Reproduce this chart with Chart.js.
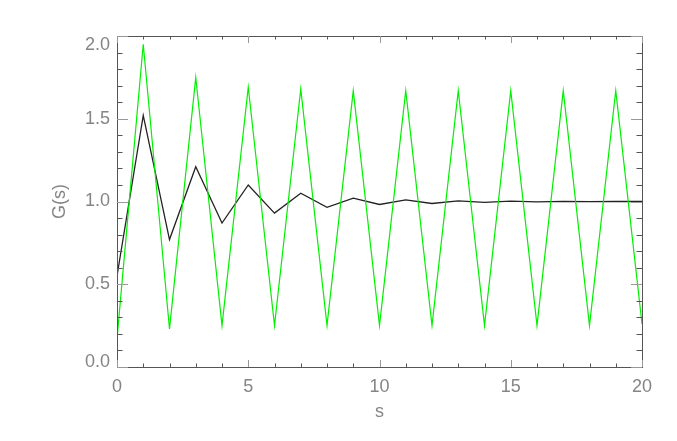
<!DOCTYPE html>
<html>
<head>
<meta charset="utf-8">
<title>G(s)</title>
<script src="https://cdn.jsdelivr.net/npm/chart.js@4/dist/chart.umd.min.js"></script>
<style>
  html, body { margin: 0; padding: 0; background: #fff; }
  #wrap { width: 677px; height: 441px; }
</style>
</head>
<body>
<div id="wrap"><canvas id="chart" width="677" height="441"></canvas></div>
<script>
// Values
const S_VALUES = [0, 1, 2, 3, 4, 5, 6, 7, 8, 9, 10, 11, 12, 13, 14, 15, 16, 17, 18, 19, 20];
const GREEN_VALUES = [0.17, 1.95, 0.23, 1.75, 0.25, 1.69, 0.25, 1.68, 0.25, 1.67, 0.25,
                      1.67, 0.25, 1.67, 0.25, 1.67, 0.25, 1.67, 0.25, 1.67, 0.26];
const BLACK_VALUES = [0.55, 1.52, 0.77, 1.21, 0.87, 1.10, 0.93, 1.05, 0.965, 1.02, 0.982,
                      1.01, 0.988, 1.004, 0.995, 1.002, 0.998, 1.001, 0.999, 1.0, 1.0];
const X_LABELS = [0, 5, 10, 15, 20];
const Y_LABELS = [0.0, 0.5, 1.0, 1.5, 2.0];

const TEXT_COLOR = '#858585';
const AXIS_COLOR = '#555555';
const FONT = { family: '"Liberation Sans", Arial, sans-serif', size: 18 };

// IDL-style box with inward tick marks on all four sides
const boxTicks = {
  id: 'boxTicks',
  afterDatasetsDraw(chart) {
    const { ctx, chartArea: a, scales: { x, y } } = chart;
    ctx.save();
    ctx.lineWidth = 1;
    ctx.strokeStyle = AXIS_COLOR;
    ctx.strokeRect(a.left + 0.5, a.top + 0.5, a.right - a.left, a.bottom - a.top);

    x.ticks.forEach(t => {
      const px = Math.round(x.getPixelForValue(t.value)) + 0.5;
      const major = X_LABELS.includes(Math.round(t.value * 10) / 10);
      const len = major ? 7 : 3.5;
      ctx.strokeStyle = major ? '#999' : AXIS_COLOR;
      ctx.beginPath();
      ctx.moveTo(px, a.bottom); ctx.lineTo(px, a.bottom - len);
      ctx.moveTo(px, a.top); ctx.lineTo(px, a.top + len);
      ctx.stroke();
    });
    y.ticks.forEach(t => {
      const py = Math.round(y.getPixelForValue(t.value)) + 0.5;
      const major = Y_LABELS.includes(Math.round(t.value * 10) / 10);
      const len = major ? 11 : 5.5;
      ctx.strokeStyle = major ? '#999' : AXIS_COLOR;
      ctx.beginPath();
      ctx.moveTo(a.left, py); ctx.lineTo(a.left + len, py);
      ctx.moveTo(a.right, py); ctx.lineTo(a.right - len, py);
      ctx.stroke();
    });

    // y labels: end labels are pulled inside the box like IDL does
    ctx.fillStyle = TEXT_COLOR;
    ctx.font = `${FONT.size}px ${FONT.family}`;
    ctx.textAlign = 'right';
    ctx.textBaseline = 'middle';
    Y_LABELS.forEach(v => {
      let py = y.getPixelForValue(v);
      py = Math.min(Math.max(py, a.top + 9), a.bottom - 5);
      ctx.fillText(v.toFixed(1), a.left - 7, py);
    });
    ctx.restore();
  },
};

const ctx = document.getElementById('chart').getContext('2d');
new Chart(ctx, {
  type: 'line',
  data: {
    datasets: [
      {
        label: 'green',
        data: S_VALUES.map((s, i) => ({ x: s, y: GREEN_VALUES[i] })),
        borderColor: '#00f000',
        borderWidth: 1.2,
        pointRadius: 0,
        tension: 0,
      },
      {
        label: 'black',
        data: S_VALUES.map((s, i) => ({ x: s, y: BLACK_VALUES[i] })),
        borderColor: '#222222',
        borderWidth: 1.3,
        pointRadius: 0,
        tension: 0,
      },
    ],
  },
  options: {
    responsive: false,
    animation: false,
    layout: { padding: { left: 0, right: 35, top: 36, bottom: 0 } },
    plugins: { legend: { display: false }, tooltip: { enabled: false } },
    scales: {
      x: {
        type: 'linear',
        min: 0,
        max: 20,
        afterFit: s => { s.height = 74; },
        grid: { display: false, drawTicks: false },
        border: { display: false },
        ticks: {
          stepSize: 1,
          autoSkip: false,
          maxRotation: 0,
          padding: 9,
          color: TEXT_COLOR,
          font: FONT,
          callback: v => (X_LABELS.includes(v) ? String(v) : ''),
        },
        title: {
          display: true,
          text: 's',
          color: TEXT_COLOR,
          font: FONT,
          padding: { top: 0, bottom: 18 },
        },
      },
      y: {
        min: 0,
        max: 2,
        afterFit: s => { s.width = 117; },
        grid: { display: false, drawTicks: false },
        border: { display: false },
        ticks: {
          stepSize: 0.1,
          autoSkip: false,
          color: 'rgba(0,0,0,0)',
          font: FONT,
          callback: () => '',
        },
        title: {
          display: true,
          text: 'G(s)',
          color: TEXT_COLOR,
          font: FONT,
          padding: { top: 49, bottom: 0 },
        },
      },
    },
  },
  plugins: [boxTicks],
});
</script>
</body>
</html>
